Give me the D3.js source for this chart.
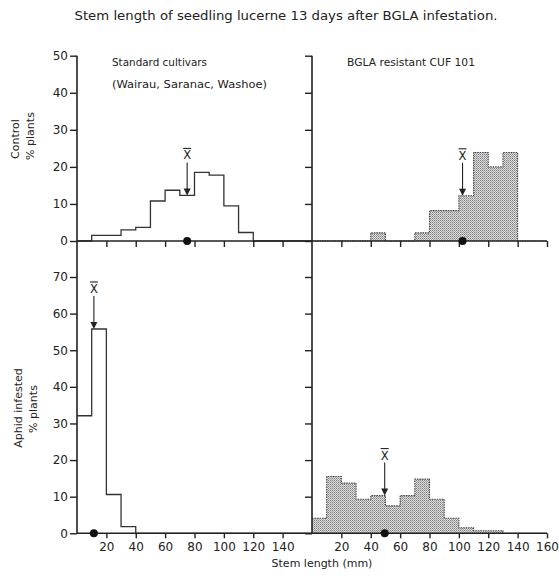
<!DOCTYPE html>
<html><head><meta charset="utf-8">
<script src="https://cdn.jsdelivr.net/npm/d3@7"></script>
<style>body{margin:0;background:#fff}svg text{font-family:"DejaVu Sans",sans-serif;fill:#222}</style>
</head><body>
<svg id="c" width="559" height="576"></svg>
<script>
// ---- data ----
const binStarts = [0,10,20,30,40,50,60,70,80,90,100,110,120,130,140,150];
const stdControl = [0,1.5,1.5,3.0,3.7,10.8,13.7,12.3,18.5,17.8,9.5,2.3,0,0,0,0];
const cufControl = [0,0,0,0,2.2,0,0,2.2,8.2,8.2,12.2,23.9,20.0,23.9,0,0];
const stdAphid   = [32.1,55.8,10.6,1.8,0,0,0,0,0,0,0,0,0,0,0,0];
const cufAphid   = [4.1,15.5,13.7,9.3,10.3,7.5,10.3,14.8,9.3,4.1,1.5,0.7,0.7,0,0,0];
const means = {stdControl:75, cufControl:102.5, stdAphid:11.5, cufAphid:49.5};
const topTicks = [0,10,20,30,40,50];
const botTicks = [0,10,20,30,40,50,60,70];
const xTicksLeft = [20,40,60,80,100,120,140];
const xTicksRight = [20,40,60,80,100,120,140,160];
const title = "Stem length of  seedling lucerne 13 days after BGLA infestation.";

const svg = d3.select("#c");
const ink = "#222";

// pattern
const defs = svg.append("defs");
const pat = defs.append("pattern").attr("id","stip").attr("patternUnits","userSpaceOnUse").attr("width",2).attr("height",2);
pat.append("rect").attr("width",2).attr("height",2).attr("fill","#dedede");
pat.append("rect").attr("x",0).attr("y",0).attr("width",1).attr("height",1).attr("fill","#7d7d7d");
pat.append("rect").attr("x",1).attr("y",1).attr("width",1).attr("height",1).attr("fill","#a5a5a5");

// scales
const xL = d3.scaleLinear().domain([0,160]).range([77,312]);
const xR = d3.scaleLinear().domain([0,160]).range([312,547]);
const yT = d3.scaleLinear().domain([0,50]).range([241,55.7]);
const yB = d3.scaleLinear().domain([0,70]).range([533.3,277]);

// title
svg.append("text").attr("x",286).attr("y",20).attr("text-anchor","middle")
  .attr("font-size",13).attr("textLength",423).attr("lengthAdjust","spacingAndGlyphs").text(title);

// histograms
function hist(x, y, vals, filled){
  const pts = vals.map((v,i)=>({x:binStarts[i],v}));
  pts.push({x:160,v:0});
  const g = svg.append("g");
  if(filled){
    g.append("path").datum(pts)
      .attr("d", d3.area().curve(d3.curveStepAfter).x(d=>x(d.x)).y0(y(0)).y1(d=>y(d.v)))
      .attr("fill","url(#stip)");
  }
  g.append("path").datum(pts)
    .attr("d", d3.line().curve(d3.curveStepAfter).x(d=>x(d.x)).y(d=>y(d.v)))
    .attr("fill","none").attr("stroke", filled? "#444":"#333")
    .attr("stroke-width", filled?1.1:1.3)
    .attr("stroke-dasharray", filled? "1.5,1":null);
}
hist(xL,yT,stdControl,false);
hist(xR,yT,cufControl,true);
hist(xL,yB,stdAphid,false);
hist(xR,yB,cufAphid,true);

// axes
function yAxis(x, y, ticks, labels){
  const ax = d3.axisLeft(y).tickValues(ticks).tickSize(7).tickPadding(2)
    .tickFormat(labels? d3.format("d") : ()=> "");
  const g = svg.append("g").attr("transform",`translate(${x},0)`).call(ax);
  g.select(".domain").remove();
  g.selectAll("line").attr("stroke",ink).attr("stroke-width",1.4);
  g.selectAll("text").attr("font-size",12).attr("fill",ink);
}
yAxis(77,yT,topTicks,true);
yAxis(312,yT,topTicks,false);
yAxis(77,yB,botTicks,true);
yAxis(312,yB,botTicks,false);

// long vertical axis lines
[77,312].forEach(x=>{
  svg.append("line").attr("x1",x).attr("x2",x).attr("y1",yT(50)).attr("y2",yB(0))
    .attr("stroke",ink).attr("stroke-width",1.6);
});

function xAxis(x, yPos, ticks, labels){
  const ax = d3.axisBottom(x).tickValues(ticks).tickSize(labels?5:6).tickPadding(4)
    .tickFormat(labels? d3.format("d") : ()=> "");
  const g = svg.append("g").attr("transform",`translate(0,${yPos})`).call(ax);
  g.select(".domain").remove();
  g.selectAll("line").attr("stroke",ink).attr("stroke-width",1.4);
  g.selectAll("text").attr("font-size",12).attr("fill",ink);
}
xAxis(xL, yT(0), xTicksLeft, false);
xAxis(xR, yT(0), xTicksRight, false);
xAxis(xL, yB(0), xTicksLeft, true);
xAxis(xR, yB(0), xTicksRight, true);
[yT(0), yB(0)].forEach(yy=>{
  svg.append("line").attr("x1",77).attr("x2",547).attr("y1",yy).attr("y2",yy)
    .attr("stroke",ink).attr("stroke-width",1.6);
});

// mean markers
function meanMark(x, y, vals, m){
  const tip = y(vals[Math.floor(m/10)]);
  const cx = x(m);
  svg.append("line").attr("x1",cx).attr("x2",cx).attr("y1",tip-33).attr("y2",tip-5)
    .attr("stroke",ink).attr("stroke-width",1.1);
  svg.append("path").attr("d",`M${cx-3.5},${tip-7}L${cx+3.5},${tip-7}L${cx},${tip}Z`).attr("fill",ink);
  svg.append("text").attr("x",cx).attr("y",tip-36).attr("text-anchor","middle")
    .attr("font-size",11.5).text("X");
  svg.append("line").attr("x1",cx-4).attr("x2",cx+4).attr("y1",tip-47).attr("y2",tip-47)
    .attr("stroke",ink).attr("stroke-width",1.1);
  svg.append("circle").attr("cx",cx).attr("cy",y(0)).attr("r",4).attr("fill","#111");
}
meanMark(xL,yT,stdControl,means.stdControl);
meanMark(xR,yT,cufControl,means.cufControl);
meanMark(xL,yB,stdAphid,means.stdAphid);
meanMark(xR,yB,cufAphid,means.cufAphid);

// panel labels
svg.append("text").attr("x",112).attr("y",66).attr("font-size",10.5)
  .attr("textLength",95).attr("lengthAdjust","spacingAndGlyphs").text("Standard cultivars");
svg.append("text").attr("x",112).attr("y",88).attr("font-size",10.5)
  .attr("textLength",155).attr("lengthAdjust","spacingAndGlyphs").text("(Wairau, Saranac, Washoe)");
svg.append("text").attr("x",347).attr("y",66).attr("font-size",10.5)
  .attr("textLength",128).attr("lengthAdjust","spacingAndGlyphs").text("BGLA resistant CUF 101");

// y titles
function yTitle(x, y, t){
  svg.append("text").attr("transform",`translate(${x},${y}) rotate(-90)`)
    .attr("text-anchor","middle").attr("font-size",11).text(t);
}
yTitle(19,139,"Control");
yTitle(34,136,"% plants");
yTitle(22,408,"Aphid infested");
yTitle(37,409,"% plants");

// x title
svg.append("text").attr("x",322).attr("y",567).attr("text-anchor","middle")
  .attr("font-size",11).text("Stem length (mm)");
</script>
</body></html>
